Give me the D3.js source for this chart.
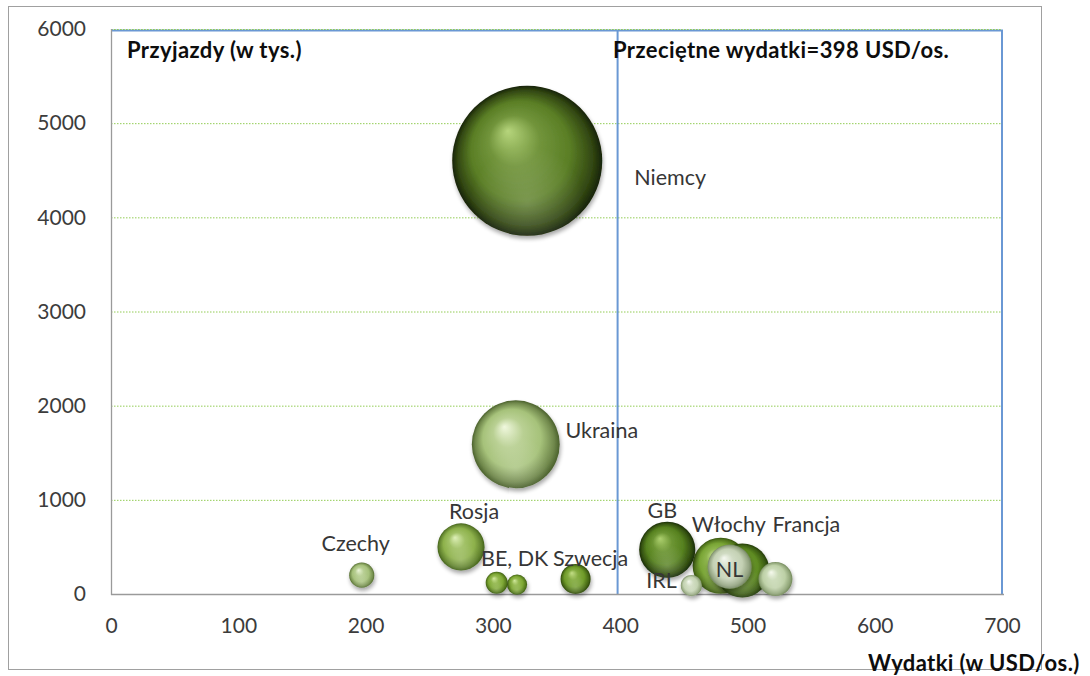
<!DOCTYPE html>
<html lang="pl">
<head>
<meta charset="utf-8">
<script src="https://cdn.jsdelivr.net/npm/d3@7"></script>
<style>
  html, body { margin: 0; padding: 0; background: #fff; }
  svg { display: block; }
  text { font-family: Lato, "Open Sans", sans-serif; }
</style>
</head>
<body>
<svg id="chart" width="1090" height="676"></svg>
<script>
// Przyjazdy cudzoziemców: wydatki na osobę (USD), liczba przyjazdów (tys.), łączne wydatki (mln USD)
const countries = ["Włochy", "", "NL", "Francja", "IRL", "GB", "Szwecja", "DK", "BE", "Czechy", "Rosja", "Ukraina", "Niemcy"];
const spendPerPerson = [479, 496, 486, 522, 456, 437, 365, 319, 303, 197, 275, 318, 327];
const arrivals = [300, 250, 290, 160, 90, 470, 160, 100, 120, 200, 500, 1590, 4600];
const totalSpend = [210, 195, 130, 77, 30, 210, 60, 27, 32, 42, 148, 515, 1500];
const labelText = ["Włochy", "", "NL", "Francja", "IRL", "GB", "Szwecja", "", "BE, DK", "Czechy", "Rosja", "Ukraina", "Niemcy"];
const averageSpend = 398;
const xTicks = [0, 100, 200, 300, 400, 500, 600, 700];
const yTicks = [0, 1000, 2000, 3000, 4000, 5000, 6000];

// sphere colours: [highlight, body, rim]
const sphere = {
  "Włochy":  ["#cbe594", "#79a535", "#34520b"],
  "":        ["#a2c860", "#5f8c22", "#223a07"],
  "NL":      ["#f5f8f0", "#c4d1b4", "#758763"],
  "Francja": ["#f6faee", "#bdd0a6", "#72885a"],
  "IRL":     ["#f7faf2", "#c4d3b2", "#7a8f63"],
  "GB":      ["#add06f", "#56811f", "#182b05"],
  "Szwecja": ["#c3de86", "#6f9b29", "#2b4507"],
  "DK":      ["#d1e89d", "#7ea834", "#395a0e"],
  "BE":      ["#d1e89d", "#7ea834", "#395a0e"],
  "Czechy":  ["#eaf4d6", "#a6c17b", "#566f32"],
  "Rosja":   ["#def0b8", "#8db14b", "#43621a"],
  "Ukraina": ["#f0f8de", "#a6c27a", "#4a602c"],
  "Niemcy":  ["#b6d57c", "#5a7e25", "#172306"]
};

// label offsets from bubble centre (px): [dx to text middle, dy to baseline]
const labelOffset = {
  "Niemcy": [143, 24], "Ukraina": [86, -6], "Rosja": [13, -28], "Czechy": [-6, -24],
  "BE": [18, -17], "Szwecja": [15, -13], "GB": [-5, -32], "IRL": [-30, 2],
  "Włochy": [8, -34], "Francja": [31, -47], "NL": [0, 10]
};

const W = 1090, H = 676;
const plot = { left: 111, right: 1002, top: 29, bottom: 594 };

const svg = d3.select("#chart");
svg.append("rect").attr("width", W).attr("height", H).attr("fill", "#fff");

// outer chart frame
svg.append("rect")
  .attr("x", 8.5).attr("y", 6.5).attr("width", 1033).attr("height", 663)
  .attr("fill", "none").attr("stroke", "#a0a0a0").attr("stroke-width", 1);

const x = d3.scaleLinear().domain([0, 700]).range([plot.left, plot.right]);
const y = d3.scaleLinear().domain([0, 6000]).range([plot.bottom, plot.top]);
const r = d3.scaleSqrt().domain([0, 1500]).range([0, 75]);

const defs = svg.append("defs");

const shadow = defs.append("filter").attr("id", "shadow")
  .attr("x", "-30%").attr("y", "-30%").attr("width", "160%").attr("height", "170%");
shadow.append("feGaussianBlur").attr("in", "SourceAlpha").attr("stdDeviation", 2.2).attr("result", "b");
shadow.append("feOffset").attr("in", "b").attr("dx", 1).attr("dy", 3).attr("result", "o");
shadow.append("feComponentTransfer").attr("in", "o").attr("result", "s")
  .append("feFuncA").attr("type", "linear").attr("slope", 0.35);
const merge = shadow.append("feMerge");
merge.append("feMergeNode").attr("in", "s");
merge.append("feMergeNode").attr("in", "SourceGraphic");

countries.forEach((c, i) => {
  const [hi, body, rim] = sphere[c];
  const g = defs.append("radialGradient").attr("id", "sph" + i)
    .attr("cx", "50%").attr("cy", "50%").attr("r", "50%")
    .attr("fx", "37%").attr("fy", "30%");
  g.append("stop").attr("offset", "0%").attr("stop-color", hi);
  g.append("stop").attr("offset", "34%").attr("stop-color", d3.interpolateRgb(hi, body)(0.75));
  g.append("stop").attr("offset", "66%").attr("stop-color", body);
  g.append("stop").attr("offset", "90%").attr("stop-color", d3.interpolateRgb(body, rim)(0.6));
  g.append("stop").attr("offset", "100%").attr("stop-color", rim);
});

// soft reflected light in the lower half of each sphere
const refl = defs.append("radialGradient").attr("id", "refl")
  .attr("cx", "50%").attr("cy", "78%").attr("r", "38%");
refl.append("stop").attr("offset", "0%").attr("stop-color", "#fff").attr("stop-opacity", 0.2);
refl.append("stop").attr("offset", "100%").attr("stop-color", "#fff").attr("stop-opacity", 0);

// horizontal gridlines
svg.append("g").selectAll("line").data(yTicks.filter(d => d > 0)).join("line")
  .attr("x1", plot.left).attr("x2", plot.right)
  .attr("y1", d => y(d) + 0.5).attr("y2", d => y(d) + 0.5)
  .attr("stroke", "#92cc55").attr("stroke-width", 1).attr("stroke-dasharray", "1.5,1.5");

// framed reference area split at average spending
const frame = svg.append("g").attr("fill", "none").attr("stroke", "#6a98d4").attr("stroke-width", 2);
frame.append("line").attr("x1", plot.left).attr("x2", plot.right + 1).attr("y1", y(6000) + 1.5).attr("y2", y(6000) + 1.5);
frame.append("line").attr("x1", plot.right).attr("x2", plot.right).attr("y1", y(6000) + 1).attr("y2", plot.bottom);
frame.append("line").attr("x1", x(averageSpend)).attr("x2", x(averageSpend)).attr("y1", y(6000) + 1).attr("y2", plot.bottom);
svg.append("line").attr("x1", plot.left).attr("x2", plot.right)
  .attr("y1", y(6000) + 0.5).attr("y2", y(6000) + 0.5)
  .attr("stroke", "#92cc55").attr("stroke-width", 1).attr("stroke-dasharray", "1.5,1.5");

// axis lines
svg.append("line").attr("x1", plot.left + 0.5).attr("x2", plot.left + 0.5)
  .attr("y1", plot.top).attr("y2", plot.bottom + 1).attr("stroke", "#9a9a9a").attr("stroke-width", 1.3);
svg.append("line").attr("x1", plot.left).attr("x2", plot.right + 2)
  .attr("y1", plot.bottom + 0.5).attr("y2", plot.bottom + 0.5).attr("stroke", "#9a9a9a").attr("stroke-width", 1.3);

// axes
const yAxis = svg.append("g").attr("transform", `translate(${plot.left},0)`)
  .call(d3.axisLeft(y).tickValues(yTicks).tickSize(0).tickPadding(25).tickFormat(d3.format("d")));
const xAxis = svg.append("g").attr("transform", `translate(0,${plot.bottom})`)
  .call(d3.axisBottom(x).tickValues(xTicks).tickSize(0).tickPadding(24).tickFormat(d3.format("d")));
[yAxis, xAxis].forEach(a => {
  a.select(".domain").remove();
  a.selectAll("text").attr("font-family", "Lato, sans-serif").attr("font-size", 21).attr("fill", "#3c3c3c");
});

// bubbles, drawn in data order so the overlaps stack correctly
const idx = d3.range(countries.length);
const bub = svg.append("g").selectAll("g").data(idx).join("g")
  .attr("transform", i => `translate(${x(spendPerPerson[i])},${y(arrivals[i])})`);
bub.append("circle").attr("r", i => r(totalSpend[i]))
  .attr("fill", i => `url(#sph${i})`).attr("filter", "url(#shadow)");
bub.append("circle").attr("r", i => r(totalSpend[i])).attr("fill", "url(#refl)");

// bubble labels
svg.append("g").selectAll("text").data(idx.filter(i => labelText[i])).join("text")
  .attr("x", i => x(spendPerPerson[i]) + labelOffset[countries[i]][0])
  .attr("y", i => y(arrivals[i]) + labelOffset[countries[i]][1])
  .attr("text-anchor", "middle")
  .attr("font-size", 21.5).attr("fill", "#363636")
  .text(i => labelText[i]);

// titles
const titleStyle = sel => sel.attr("font-size", 22).attr("font-weight", "bold")
  .attr("letter-spacing", 0.4).attr("fill", "#0d0d0d");
svg.append("text").attr("x", 127).attr("y", 58).call(titleStyle)
  .text("Przyjazdy (w tys.)");
svg.append("text").attr("x", 613).attr("y", 58).call(titleStyle)
  .text("Przeciętne wydatki=" + averageSpend + " USD/os.");
svg.append("text").attr("x", 868).attr("y", 671).call(titleStyle)
  .text("Wydatki (w USD/os.)");
</script>
</body>
</html>
